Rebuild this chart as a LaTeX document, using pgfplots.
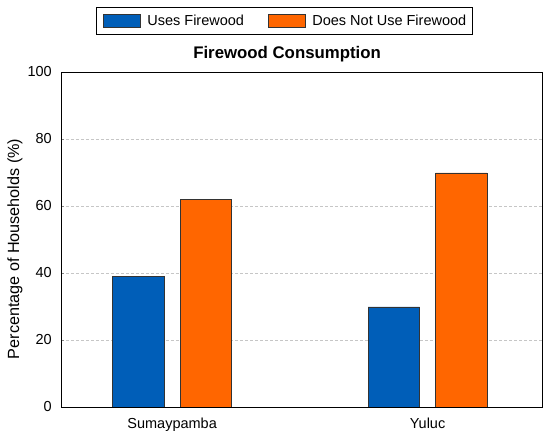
\documentclass[border=0pt]{standalone}
\usepackage{pgfplots}
\pgfplotsset{compat=1.18}
\usepackage{fontspec}
\setmainfont{Liberation Sans}
\definecolor{fwblue}{RGB}{0,94,184}
\definecolor{fworange}{RGB}{255,102,0}
\begin{document}
\begin{tikzpicture}
\useasboundingbox (-61bp,-29bp) rectangle (489bp,407bp);
\begin{axis}[
  at={(0,0)}, anchor=south west,
  scale only axis,
  width=481bp, height=335bp,
  ybar, bar width=0.2017,
  xmin=-0.435, xmax=1.448,
  ymin=0, ymax=100,
  xtick={0,1},
  xticklabels={Sumaypamba,Yuluc},
  x tick style={draw=none},
  ytick={0,20,40,60,80,100},
  ytick pos=left,
  tick align=inside,
  major tick length=3bp,
  ymajorgrids,
  major grid style={densely dashed, gray!45, line width=0.5bp},
  axis line style={black, line width=0.9bp},
  /pgf/number format/assume math mode=true,
  tick label style={font=\fontsize{14.5bp}{17bp}\selectfont},
  yticklabel style={inner sep=0pt, xshift=-9bp},
  xticklabel style={inner sep=0pt, yshift=-11bp},
  ylabel={Percentage of Households (\%)},
  ylabel style={font=\fontsize{16.2bp}{18bp}\selectfont, at={(axis description cs:-0.0873,0.472)}, anchor=base, inner sep=0pt},
  title={Firewood Consumption},
  title style={font=\fontsize{16.8bp}{19bp}\selectfont\bfseries, at={(axis description cs:0.47,1)}, anchor=base, yshift=7.7bp, inner sep=0pt},
  legend columns=2,
  legend style={
    at={(axis description cs:0.4647,1.152)}, anchor=center,
    draw=black, line width=0.8bp,
    inner xsep=6bp, inner ysep=7bp,
    font=\fontsize{14.5bp}{17bp}\selectfont,
    nodes={inner sep=0pt},
    /tikz/every odd column/.append style={column sep=7bp},
    /tikz/every even column/.append style={column sep=23.7bp},
  },
  legend image code/.code={\draw[#1, line width=0.6bp, bar shift=0pt] (0bp,-6.5bp) rectangle (37bp,6.5bp);},
]
\addplot[fill=fwblue, draw=black!80, line width=0.6bp, bar shift=-0.132] coordinates {(0,39.1) (1,29.9)};
\addlegendentry{Uses Firewood}
\addplot[fill=fworange, draw=black!80, line width=0.6bp, bar shift=0.132] coordinates {(0,62.0) (1,69.9)};
\addlegendentry{Does Not Use Firewood}
\end{axis}
\end{tikzpicture}
\end{document}
